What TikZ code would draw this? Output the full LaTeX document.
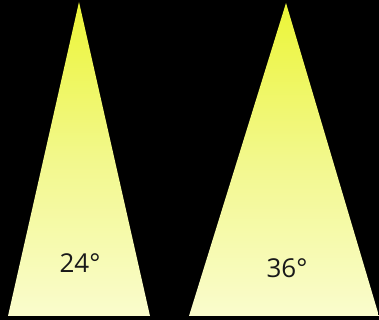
\documentclass[tikz,border=0pt]{standalone}
\usepackage{fontspec}
\setmainfont{Open Sans}
\usetikzlibrary{positioning}

\definecolor{beamtop}{RGB}{236,245,55}
\definecolor{beammid}{RGB}{242,248,140}
\definecolor{beambot}{RGB}{250,252,205}
\definecolor{labelink}{RGB}{25,25,25}

\tikzset{
  beam/.style={top color=beamtop, bottom color=beambot, middle color=beammid, draw=none},
  anglelabel/.style={text=labelink, font=\fontsize{26}{30}\selectfont, inner sep=0pt}
}

\begin{document}
\begin{tikzpicture}[x=1pt,y=1pt]
\useasboundingbox (0,0) rectangle (379,320);
\fill[black] (0,0) rectangle (379,320);
% narrow beam
\shade[beam] (79,318) -- (150,4) -- (8,4) -- cycle;
\node[anglelabel] (narrow) at (80,57) {24°};
% wide beam
\shade[beam] (286,317) -- (379,4) -- (189,4) -- cycle;
\node[anglelabel] (wide) at (287,52) {36°};
\end{tikzpicture}
\end{document}
